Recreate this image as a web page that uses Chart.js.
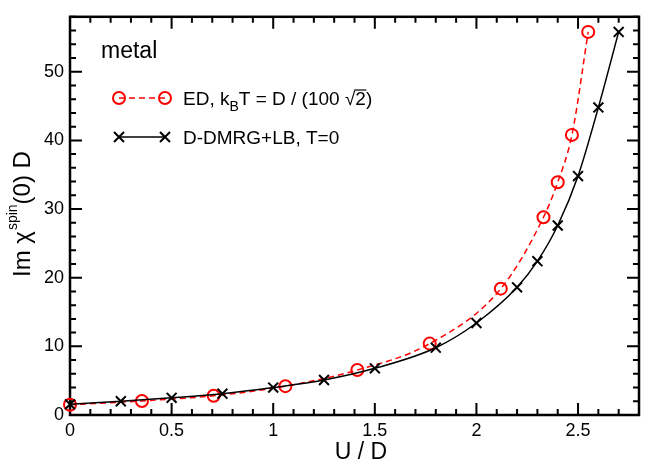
<!DOCTYPE html>
<html>
<head>
<meta charset="utf-8">
<script src="https://cdn.jsdelivr.net/npm/chart.js@4.4.0/dist/chart.umd.min.js"></script>
<style>
html, body { margin: 0; padding: 0; background: #fff; }
#wrap { width: 648px; height: 462px; }
</style>
</head>
<body>
<div id="wrap"><canvas id="chart" width="648" height="462"></canvas></div>
<script>
// values
const edU = [0, 0.354, 0.707, 1.06, 1.414, 1.77, 2.12, 2.33, 2.40, 2.47, 2.55];
const edChi = [1.5, 2.05, 2.8, 4.2, 6.55, 10.4, 18.4, 28.8, 33.9, 40.8, 55.8];
const dmrgU = [0, 0.25, 0.5, 0.75, 1.0, 1.25, 1.5, 1.8, 2.0, 2.2, 2.3, 2.4, 2.5, 2.6, 2.7];
const dmrgChi = [1.55, 2.0, 2.5, 3.1, 4.0, 5.1, 6.8, 9.8, 13.4, 18.6, 22.4, 27.6, 34.8, 44.8, 55.8];
const xTicks = [0, 0.5, 1, 1.5, 2, 2.5];
const yTicks = [0, 10, 20, 30, 40, 50];

const FONT = '"Liberation Sans", Arial, Helvetica, sans-serif';

function toPoints(xs, ys) {
    return xs.map((v, i) => ({ x: v, y: ys[i] }));
}

// inward ticks on all four sides plus the frame
const framePlugin = {
    id: 'frame',
    beforeDatasetsDraw(chart) {
        const { ctx, chartArea: a, scales: { x, y } } = chart;
        ctx.save();
        ctx.strokeStyle = '#000';
        ctx.lineWidth = 2;
        ctx.beginPath();
        for (let i = 0; i <= 28; i++) {
            const px = x.getPixelForValue(i / 10);
            const len = i % 5 === 0 ? 12 : 6;
            ctx.moveTo(px, a.bottom); ctx.lineTo(px, a.bottom - len);
            ctx.moveTo(px, a.top); ctx.lineTo(px, a.top + len);
        }
        for (let v = 0; v <= 58; v += 2) {
            const py = y.getPixelForValue(v);
            const len = v % 10 === 0 ? 12 : 6;
            ctx.moveTo(a.left, py); ctx.lineTo(a.left + len, py);
            ctx.moveTo(a.right, py); ctx.lineTo(a.right - len, py);
        }
        ctx.stroke();
        ctx.lineWidth = 2.5;
        ctx.strokeRect(a.left, a.top, a.right - a.left, a.bottom - a.top);
        ctx.restore();
    },
    afterDraw(chart) {
        const { ctx } = chart;
        ctx.save();
        ctx.fillStyle = '#000';
        ctx.textBaseline = 'alphabetic';
        ctx.textAlign = 'left';

        // x title
        ctx.font = '23px ' + FONT;
        ctx.textAlign = 'center';
        ctx.fillText('U / D', 361, 459);
        ctx.textAlign = 'left';

        // y title with superscript
        ctx.save();
        ctx.translate(30, 277);
        ctx.rotate(-Math.PI / 2);
        ctx.font = '24px ' + FONT;
        let cx = 0;
        ctx.fillText('Im \u03c7', cx, 0);
        cx += ctx.measureText('Im \u03c7').width + 1;
        ctx.font = '14px ' + FONT;
        ctx.fillText('spin', cx, -13);
        cx += ctx.measureText('spin').width;
        ctx.font = '24px ' + FONT;
        ctx.fillText('(0) D', cx, 0);
        ctx.restore();

        // "metal"
        ctx.font = '23px ' + FONT;
        ctx.fillText('metal', 101, 58);

        // legend row 1 (ED)
        const x1 = 119, x2 = 165, r1 = 98, r2 = 137;
        ctx.strokeStyle = '#ff0000';
        ctx.lineWidth = 1.5;
        ctx.setLineDash([6, 4]);
        ctx.beginPath();
        ctx.moveTo(x1, r1); ctx.lineTo(x2, r1);
        ctx.stroke();
        ctx.setLineDash([]);
        ctx.lineWidth = 2;
        for (const px of [x1, x2]) {
            ctx.beginPath();
            ctx.arc(px, r1, 6, 0, Math.PI * 2);
            ctx.stroke();
        }
        ctx.font = '19px ' + FONT;
        let tx = 183;
        const base1 = 105;
        ctx.fillText('ED, k', tx, base1);
        tx += ctx.measureText('ED, k').width;
        ctx.font = '14px ' + FONT;
        ctx.fillText('B', tx, base1 + 6);
        tx += ctx.measureText('B').width;
        ctx.font = '19px ' + FONT;
        ctx.fillText('T = D / (100 \u221a', tx, base1);
        tx += ctx.measureText('T = D / (100 \u221a').width;
        const w2 = ctx.measureText('2').width;
        ctx.fillText('2', tx, base1);
        ctx.strokeStyle = '#000';
        ctx.lineWidth = 1.2;
        ctx.beginPath();
        ctx.moveTo(tx - 1, base1 - 15); ctx.lineTo(tx + w2 + 0.5, base1 - 15);
        ctx.stroke();
        tx += w2;
        ctx.fillText(')', tx, base1);

        // legend row 2 (D-DMRG)
        ctx.strokeStyle = '#000';
        ctx.lineWidth = 1.5;
        ctx.beginPath();
        ctx.moveTo(x1, r2); ctx.lineTo(x2, r2);
        ctx.stroke();
        ctx.lineWidth = 2;
        for (const px of [x1, x2]) {
            ctx.beginPath();
            ctx.moveTo(px - 5, r2 - 5); ctx.lineTo(px + 5, r2 + 5);
            ctx.moveTo(px - 5, r2 + 5); ctx.lineTo(px + 5, r2 - 5);
            ctx.stroke();
        }
        ctx.font = '19px ' + FONT;
        ctx.fillText('D-DMRG+LB, T=0', 183, 144);
        ctx.restore();
    }
};

const ctx = document.getElementById('chart').getContext('2d');
new Chart(ctx, {
    type: 'scatter',
    data: {
        datasets: [
            {
                label: 'D-DMRG+LB, T=0',
                data: toPoints(dmrgU, dmrgChi),
                showLine: true,
                borderColor: '#000',
                borderWidth: 1.5,
                cubicInterpolationMode: 'monotone',
                pointStyle: 'crossRot',
                pointRadius: 7,
                pointBorderWidth: 2,
                pointBorderColor: '#000',
                clip: false
            },
            {
                label: 'ED',
                data: toPoints(edU, edChi),
                showLine: true,
                borderColor: '#ff0000',
                borderWidth: 1.5,
                borderDash: [6, 4],
                cubicInterpolationMode: 'monotone',
                pointStyle: 'circle',
                pointRadius: 6,
                pointBorderWidth: 2,
                pointBorderColor: '#ff0000',
                pointBackgroundColor: 'rgba(0,0,0,0)',
                clip: false
            }
        ]
    },
    options: {
        responsive: false,
        animation: false,
        devicePixelRatio: 1,
        layout: { padding: { top: 11, right: -2, left: 0, bottom: 0 } },
        plugins: {
            legend: { display: false },
            tooltip: { enabled: false }
        },
        scales: {
            x: {
                type: 'linear',
                min: 0,
                max: 2.8,
                grid: { display: false, drawTicks: false },
                border: { display: false },
                afterBuildTicks: (s) => { s.ticks = xTicks.map(v => ({ value: v })); },
                afterFit: (s) => { s.height = 47; },
                ticks: {
                    color: '#000',
                    padding: 5,
                    maxRotation: 0,
                    font: { family: FONT, size: 18 },
                    callback: (v) => String(v)
                }
            },
            y: {
                type: 'linear',
                min: 0,
                max: 58,
                grid: { display: false, drawTicks: false },
                border: { display: false },
                afterBuildTicks: (s) => { s.ticks = yTicks.map(v => ({ value: v })); },
                afterFit: (s) => { s.width = 70; },
                ticks: {
                    color: '#000',
                    padding: 6,
                    font: { family: FONT, size: 18 },
                    callback: (v) => String(v)
                }
            }
        }
    },
    plugins: [framePlugin]
});
</script>
</body>
</html>
